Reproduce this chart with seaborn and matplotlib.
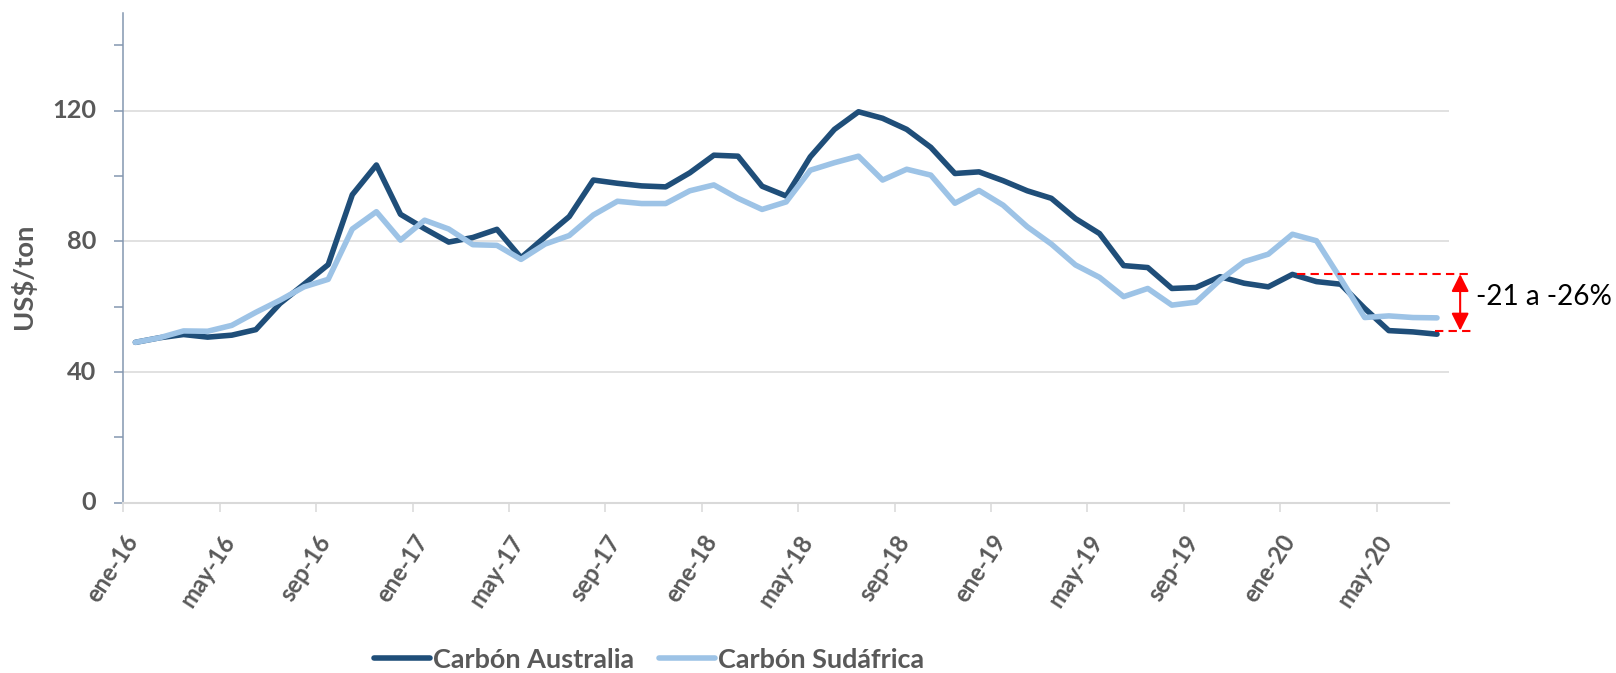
import pandas as pd
import seaborn as sns
import matplotlib.pyplot as plt
from matplotlib.transforms import ScaledTranslation

# Precios mensuales del carbón (US$/ton), ene-16 a jul-20
australia = [49.1, 50.5, 51.5, 50.7, 51.3, 53.0, 61.0, 66.9, 72.9, 94.3,
             103.4, 88.3, 83.9, 79.8, 81.2, 83.7, 75.0, 81.4, 87.6, 98.8,
             97.8, 97.0, 96.7, 101.0, 106.4, 106.1, 96.9, 93.9, 105.9, 114.3,
             119.7, 117.7, 114.3, 108.8, 100.8, 101.3, 98.6, 95.5, 93.2, 87.0,
             82.4, 72.6, 72.0, 65.6, 65.9, 69.2, 67.2, 66.1, 69.9, 67.7,
             66.9, 59.5, 52.7, 52.3, 51.6]
sudafrica = [49.1, 50.5, 52.6, 52.5, 54.3, 58.3, 62.0, 66.1, 68.4, 83.8,
             89.1, 80.4, 86.5, 83.8, 79.0, 78.8, 74.5, 79.2, 81.8, 88.1,
             92.3, 91.6, 91.6, 95.5, 97.3, 93.2, 89.8, 92.1, 101.8, 104.1,
             106.1, 98.8, 102.1, 100.3, 91.7, 95.6, 91.1, 84.5, 79.2, 72.8,
             69.0, 63.1, 65.6, 60.5, 61.4, 68.2, 73.8, 76.1, 82.2, 80.2,
             68.6, 56.7, 57.2, 56.7, 56.6]
series = ["Carbón Australia", "Carbón Sudáfrica"]
colores = {"Carbón Australia": "#1F4E79", "Carbón Sudáfrica": "#9DC3E6"}

meses = ["ene", "feb", "mar", "abr", "may", "jun", "jul", "ago", "sep", "oct", "nov", "dic"]
fechas = [f"{m}-{a}" for a in range(16, 21) for m in meses][:len(australia)]
etiquetas_x = ["ene-16", "may-16", "sep-16", "ene-17", "may-17", "sep-17", "ene-18",
               "may-18", "sep-18", "ene-19", "may-19", "sep-19", "ene-20", "may-20"]
etiquetas_y = [0, 40, 80, 120]
nota = "-21 a -26%"

n = len(fechas)
df = pd.DataFrame({
    "idx": list(range(n)) * 2,
    "fecha": fechas * 2,
    "precio": australia + sudafrica,
    "serie": [series[0]] * n + [series[1]] * n,
})

gris_txt = "#595959"
gris_lin = "#D9D9D9"
eje_az = "#8497B0"

sns.set_style("white")
plt.rcParams["font.family"] = ["Lato", "DejaVu Sans"]
plt.rcParams["font.weight"] = "bold"

W, H = 1616, 673
fig = plt.figure(figsize=(W / 100, H / 100), dpi=100)
ax = fig.add_axes([0.0763, 0.253, 0.8204, 0.728])

sns.lineplot(data=df, x="idx", y="precio", hue="serie", hue_order=series,
             palette=colores, linewidth=4, ax=ax,
             solid_joinstyle="round", solid_capstyle="round")

ax.set_xlim(-0.5, n - 0.5)
ax.set_ylim(0, 150)

# marcas de los ejes (las etiquetas se escriben aparte)
pos = [fechas.index(e) for e in etiquetas_x]
ax.set_yticks(etiquetas_y)
ax.set_yticks([20, 60, 100, 140], minor=True)
ax.tick_params(axis="y", which="both", direction="out", length=6.5, width=1.1,
               color=eje_az, left=True, labelleft=False)
ax.set_xticks([p - 0.5 for p in pos])
ax.tick_params(axis="x", which="major", direction="out", length=6.5, width=1.1,
               color=gris_lin, bottom=True, labelbottom=False)
ax.yaxis.grid(True, which="major", color=gris_lin, linewidth=1.1)
ax.set_axisbelow(True)
ax.set_xlabel("")
ax.set_ylabel("US$/ton", fontsize=19, fontweight="bold", color=gris_txt)
ax.yaxis.set_label_coords(-0.0659, 0.4627)

for s in ["top", "right"]:
    ax.spines[s].set_visible(False)
ax.spines["left"].set_color(eje_az)
ax.spines["left"].set_linewidth(1.1)
ax.spines["bottom"].set_color(gris_lin)
ax.spines["bottom"].set_linewidth(1.5)

# etiquetas de los ejes
trans_y = ax.get_yaxis_transform()
txt_y = [ax.text(0, v, str(v), transform=trans_y, ha="right", va="center",
                 fontsize=18, fontweight="bold", color=gris_txt, clip_on=False)
         for v in etiquetas_y]
trans_x = ax.get_xaxis_transform()
txt_x = [ax.text(p, 0, e, transform=trans_x, rotation=57, rotation_mode="anchor",
                 ha="right", va="top", fontsize=17, fontweight="bold",
                 color=gris_txt, clip_on=False)
         for p, e in zip(pos, etiquetas_x)]

# anotación de caída
rojo = "#FF0000"
y_alto, y_bajo = 70.0, 52.7
ax.plot([48.2, 55.5], [y_alto, y_alto], color=rojo, lw=1.5, dashes=(4, 2.5), clip_on=False)
ax.plot([53.9, 55.5], [y_bajo, y_bajo], color=rojo, lw=1.5, dashes=(4, 2.5), clip_on=False)
ax.annotate("", xy=(54.96, y_bajo), xytext=(54.96, y_alto),
            arrowprops=dict(arrowstyle="<|-|>,head_length=0.7,head_width=0.35",
                            color=rojo, lw=1.5, mutation_scale=15,
                            shrinkA=0, shrinkB=0),
            annotation_clip=False)
txt_nota = ax.text(55.6, 63.0, nota, fontsize=20, fontweight="normal", color="black",
                   ha="left", va="center", clip_on=False)

# leyenda
handles, labels = ax.get_legend_handles_labels()
ax.get_legend().remove()
leg = fig.legend(handles, labels, loc="center", bbox_to_anchor=(0.4016, 0.02), ncol=2,
                 frameon=False, handlelength=2.0, handletextpad=0.12, columnspacing=0.9,
                 prop={"size": 20, "weight": "bold"})
for t in leg.get_texts():
    t.set_color(gris_txt)
for h in leg.legend_handles:
    h.set_linewidth(4)

# ajustar tamaños de texto a las medidas de la referencia (px)
fig.canvas.draw()
r = fig.canvas.get_renderer()


def ajustar(t, objetivo, medida):
    bb = t.get_window_extent(renderer=r)
    return t.get_fontsize() * objetivo / medida(bb)


ty = ajustar(txt_y[-1], 44, lambda b: b.width)
tx = ajustar(txt_x[2], 74, lambda b: b.height)
tl = ajustar(ax.yaxis.label, 105, lambda b: b.height)
tg = ajustar(leg.get_texts()[0], 201, lambda b: b.width)
tn = ajustar(txt_nota, 136, lambda b: b.width)
for t in txt_y:
    t.set_fontsize(ty)
for t in txt_x:
    t.set_fontsize(tx)
ax.yaxis.label.set_fontsize(tl)
for t in leg.get_texts():
    t.set_fontsize(tg)
txt_nota.set_fontsize(tn)

# colocar las etiquetas donde están en la referencia
fig.canvas.draw()
by = txt_y[-1].get_window_extent(renderer=r)
off_y = ScaledTranslation((96 - by.x1) / 100, 0, fig.dpi_scale_trans)
for t in txt_y:
    t.set_transform(trans_y + off_y)
bx = txt_x[0].get_window_extent(renderer=r)
x_borde = ax.transData.transform((-0.5, 0))[0]
off_x = ScaledTranslation(((x_borde + 19.5) - bx.x1) / 100, ((H - 531) - bx.y1) / 100,
                          fig.dpi_scale_trans)
for t in txt_x:
    t.set_transform(trans_x + off_x)

fig.savefig("out.png", dpi=100)
